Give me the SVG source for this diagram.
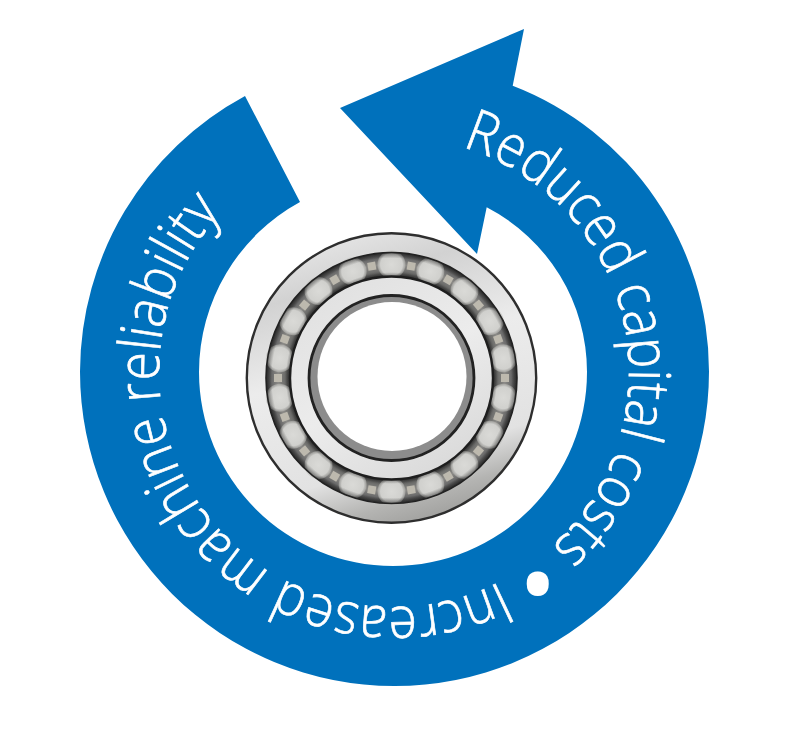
<svg xmlns="http://www.w3.org/2000/svg" width="800" height="731" viewBox="0 0 800 731">
<style>
.lbl{font-family:"Open Sans","Noto Sans","Liberation Sans",sans-serif;font-weight:300;font-size:58px;fill:#fff;stroke:#fff;stroke-width:0.7}
.dot{font-family:"Open Sans","Noto Sans","Liberation Sans",sans-serif;font-size:105px;fill:#fff;text-anchor:middle}
</style>
<defs>
<path id="base" d="M394,137 A235,235 0 1 1 393.9,137"/>
<linearGradient id="ringG" x1="0.25" y1="0" x2="0.55" y2="1">
<stop offset="0" stop-color="#e8e8e8"/><stop offset="0.18" stop-color="#d2d2d2"/><stop offset="0.45" stop-color="#ececec"/><stop offset="0.8" stop-color="#e2e2e2"/><stop offset="0.93" stop-color="#b4b4b2"/><stop offset="1" stop-color="#a4a4a2"/>
</linearGradient>
<linearGradient id="innerG" x1="0.2" y1="0" x2="0.8" y2="1">
<stop offset="0" stop-color="#e0e0e0"/><stop offset="0.5" stop-color="#ececec"/><stop offset="1" stop-color="#d8d8d8"/>
</linearGradient>
<radialGradient id="raceG" gradientUnits="userSpaceOnUse" cx="391.5" cy="378" r="126">
<stop offset="0.8" stop-color="#2e2e2e"/><stop offset="0.85" stop-color="#6e6e6c"/><stop offset="0.9" stop-color="#8c8b88"/><stop offset="0.95" stop-color="#6a6a6a"/><stop offset="1" stop-color="#2e2e2e"/>
</radialGradient>
<radialGradient id="shadeG" gradientUnits="userSpaceOnUse" cx="391.5" cy="378" r="126">
<stop offset="0.8" stop-color="#222" stop-opacity="0.55"/><stop offset="0.84" stop-color="#222" stop-opacity="0"/><stop offset="0.95" stop-color="#222" stop-opacity="0"/><stop offset="1" stop-color="#222" stop-opacity="0.6"/>
</radialGradient>
<radialGradient id="ballG">
<stop offset="0" stop-color="#dadad7"/><stop offset="0.78" stop-color="#d0d0cd"/><stop offset="1" stop-color="#bcbcb8" stop-opacity="0.5"/>
</radialGradient>
<g id="ball"><rect x="-4" y="-4" width="8" height="8" fill="#bdb9ae" transform="rotate(10 391.5 378) translate(391.5 264.5)"/><circle cx="391.5" cy="264.5" r="14" fill="url(#ballG)"/></g>
</defs>

<g id="arrow">
<path fill="#0071BC" d="M340,108 L524,29 L512.7,85.7 A306.4,306.4 0 0 1 709,371.5 A314.5,314.5 0 0 1 80,371.5 A314.5,314.5 0 0 1 245,96 L300,202 A194,194 0 0 0 199,372 A194,194 0 0 0 587,372 A185.4,185.4 0 0 0 486.7,207.3 L477,254 Z"/>
</g>

<g id="labels">
<text class="lbl"><textPath href="#base" startOffset="69" textLength="497" lengthAdjust="spacingAndGlyphs">Reduced capital costs</textPath></text>
<text class="dot" x="537.7" y="622">•</text>
<text class="lbl"><textPath href="#base" startOffset="628" textLength="655" lengthAdjust="spacingAndGlyphs">Increased machine reliability</textPath></text>
</g>

<g id="bearing">
<circle cx="391.5" cy="378" r="144.7" fill="url(#ringG)" stroke="#2e2e2e" stroke-width="2.4"/>
<circle cx="391.5" cy="378" r="125.5" fill="url(#raceG)"/>
<g>
<use href="#ball"/>
<use href="#ball" transform="rotate(20 391.5 378)"/>
<use href="#ball" transform="rotate(40 391.5 378)"/>
<use href="#ball" transform="rotate(60 391.5 378)"/>
<use href="#ball" transform="rotate(80 391.5 378)"/>
<use href="#ball" transform="rotate(100 391.5 378)"/>
<use href="#ball" transform="rotate(120 391.5 378)"/>
<use href="#ball" transform="rotate(140 391.5 378)"/>
<use href="#ball" transform="rotate(160 391.5 378)"/>
<use href="#ball" transform="rotate(180 391.5 378)"/>
<use href="#ball" transform="rotate(200 391.5 378)"/>
<use href="#ball" transform="rotate(220 391.5 378)"/>
<use href="#ball" transform="rotate(240 391.5 378)"/>
<use href="#ball" transform="rotate(260 391.5 378)"/>
<use href="#ball" transform="rotate(280 391.5 378)"/>
<use href="#ball" transform="rotate(300 391.5 378)"/>
<use href="#ball" transform="rotate(320 391.5 378)"/>
<use href="#ball" transform="rotate(340 391.5 378)"/>
</g>
<circle cx="391.5" cy="378" r="125.5" fill="url(#shadeG)" stroke="#222" stroke-width="1.6"/>
<circle cx="391.5" cy="378" r="101.5" fill="url(#innerG)" stroke="#1e1e1e" stroke-width="2.4"/>
<circle cx="391.5" cy="378" r="82.5" fill="#8c8c8c" stroke="#222" stroke-width="2.8"/>
<circle cx="392" cy="376.5" r="74.5" fill="#fff"/>
</g>
</svg>
